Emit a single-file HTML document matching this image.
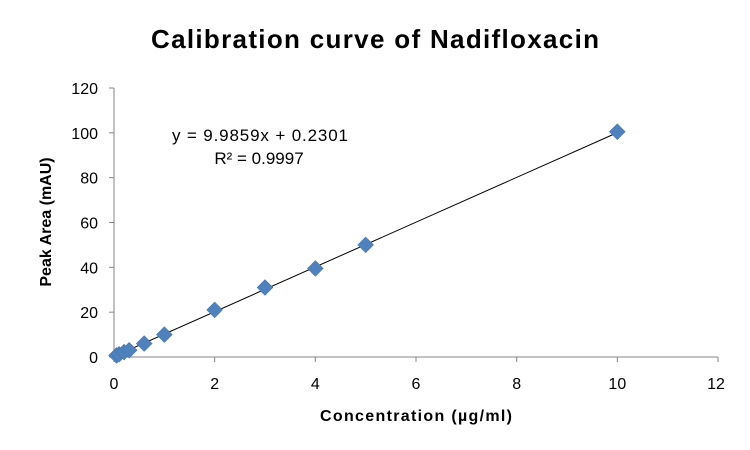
<!DOCTYPE html>
<html><head><meta charset="utf-8"><style>
body{margin:0;background:#fff;}
svg{display:block;font-family:"Liberation Sans",sans-serif;}
</style></head><body>
<svg id="c" width="750" height="450">
<text x="375" y="48" text-anchor="middle" font-size="26" font-weight="bold" textLength="448" lengthAdjust="spacing">Calibration curve of Nadifloxacin</text>
<text x="416" y="421" text-anchor="middle" font-size="16" font-weight="bold" textLength="192" lengthAdjust="spacing">Concentration (µg/ml)</text>
<text transform="translate(51,222) rotate(-90)" text-anchor="middle" font-size="16" font-weight="bold">Peak Area (mAU)</text>
<text x="260" y="141" text-anchor="middle" font-size="17" textLength="176" lengthAdjust="spacing">y = 9.9859x + 0.2301</text>
<text x="259" y="164" text-anchor="middle" font-size="17">R² = 0.9997</text>
<g id="g"></g>
</svg>
<script>
const xs=[0.05,0.1,0.2,0.3,0.6,1,2,3,4,5,10];
const ys=[0.7,1.2,2.2,3,6,10,21,31,39.5,50,100.5];
const xTicks=[0,2,4,6,8,10,12];
const yTicks=[0,20,40,60,80,100,120];
const slope=9.9859, intercept=0.2301;
const X=v=>114+v*(718-114)/12;
const Y=v=>357-v*(357-88)/120;
const g=document.getElementById('g');
const NS='http://www.w3.org/2000/svg';
function mk(t,a){const e=document.createElementNS(NS,t);for(const k in a)e.setAttribute(k,a[k]);g.appendChild(e);return e;}
let e=mk('line',{x1:X(0),y1:Y(0),x2:X(12),y2:Y(0),stroke:'#868686','stroke-width':1});


e=mk('line',{x1:X(0),y1:Y(0),x2:X(0),y2:Y(120),stroke:'#868686','stroke-width':1});


xTicks.forEach(t=>{
 mk('line',{x1:X(t),y1:Y(0),x2:X(t),y2:Y(0)+5,stroke:'#868686'});
 e=mk('text',{x:Math.min(X(t),716),y:389,'text-anchor':'middle','font-size':16});
 e.textContent=t;
 
 
});
yTicks.forEach(t=>{
 mk('line',{x1:X(0)-5,y1:Y(t),x2:X(0),y2:Y(t),stroke:'#868686'});
 e=mk('text',{x:98,y:Y(t)+6,'text-anchor':'end','font-size':16});
 e.textContent=t;
 
 
});
const x0=Math.min(...xs),x1=Math.max(...xs);
e=mk('line',{x1:X(x0),y1:Y(slope*x0+intercept),x2:X(x1),y2:Y(slope*x1+intercept),stroke:'#000','stroke-width':1});


xs.forEach((v,i)=>{
 const cx=X(v),cy=Y(ys[i]),r=8;
 e=mk('polygon',{points:`${cx},${cy-r} ${cx+r},${cy} ${cx},${cy+r} ${cx-r},${cy}`,fill:'#4f81bd',stroke:'#3f6fa8','stroke-width':0.5});
 
 
});
</script>
</body></html>
